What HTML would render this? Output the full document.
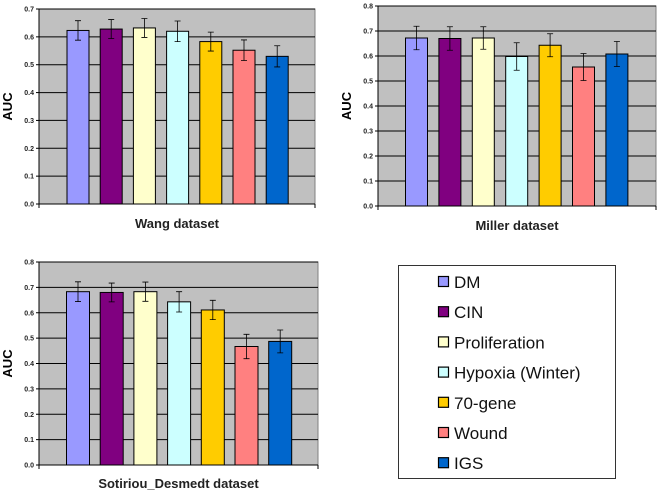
<!DOCTYPE html>
<html><head><meta charset="utf-8"><style>
body{margin:0;background:#fff;width:661px;height:494px;overflow:hidden;font-family:"Liberation Sans",sans-serif}
svg{position:absolute;left:0;top:0}
</style></head><body>
<svg id="s" width="661" height="494">
<g>
<rect x="398.5" y="265.5" width="217" height="213" fill="#fff" stroke="#333" stroke-width="1"/>
<g id="leg"></g>
</g>
</svg>
<script>
const categories=["DM","CIN","Proliferation","Hypoxia (Winter)","70-gene","Wound","IGS"];
const colors=["#9999ff","#800080","#ffffcc","#ccffff","#ffcc00","#ff8080","#0066cc"];
const wangValues=[0.623,0.628,0.632,0.620,0.583,0.552,0.530];
const wangErrors=[0.035,0.034,0.034,0.037,0.034,0.037,0.038];
const millerValues=[0.672,0.670,0.672,0.598,0.643,0.556,0.608];
const millerErrors=[0.047,0.047,0.045,0.055,0.046,0.054,0.05];
const sotValues=[0.683,0.680,0.683,0.643,0.611,0.467,0.487];
const sotErrors=[0.039,0.037,0.038,0.040,0.038,0.048,0.045];
const wangTicks=["0.0","0.1","0.2","0.3","0.4","0.5","0.6","0.7"];
const eightTicks=["0.0","0.1","0.2","0.3","0.4","0.5","0.6","0.7","0.8"];
const NS="http://www.w3.org/2000/svg";
const svg=document.getElementById('s');
function mk(t,a,p){const e=document.createElementNS(NS,t);for(const k in a)e.setAttribute(k,a[k]);(p||svg).appendChild(e);return e;}
function chart(id,cfg,vals,errs,ticks,title){
  const g=mk('g',{});
  
  
  const max=parseFloat(ticks[ticks.length-1]);
  const y=v=>cfg.y0-(v/max)*(cfg.y0-cfg.y1);
  const r=mk('rect',{x:cfg.x0,y:cfg.y1,width:cfg.x1-cfg.x0,height:cfg.y0-cfg.y1,fill:'#c0c0c0',stroke:'#808080'},g);
  
  
  ticks.forEach(t=>{const v=parseFloat(t);const yy=y(v);
    mk('line',{x1:cfg.x0,x2:cfg.x1,y1:yy,y2:yy,stroke:'#000','stroke-width':1},g);
    mk('line',{x1:cfg.x0-3,x2:cfg.x0,y1:yy,y2:yy,stroke:'#000'},g);
    const tx=mk('text',{x:cfg.x0-5,y:yy+2.5,'font-size':7,'text-anchor':'end','font-weight':'bold',fill:'#222'},g);
    tx.textContent=t;
    
    
  });
  mk('line',{x1:cfg.x0,x2:cfg.x0,y1:cfg.y1,y2:cfg.y0,stroke:'#000'},g);
  mk('line',{x1:cfg.x1,x2:cfg.x1,y1:cfg.y0,y2:cfg.y0+4,stroke:'#000'},g);
  mk('line',{x1:cfg.x0,x2:cfg.x0,y1:cfg.y0,y2:cfg.y0+4,stroke:'#000'},g);
  vals.forEach((v,i)=>{
    const bx=cfg.bx+i*cfg.step;
    const b=mk('rect',{x:bx,y:y(v),width:cfg.bw,height:cfg.y0-y(v),fill:colors[i],stroke:'#000','stroke-width':1},g);
    
    
    const cx=bx+cfg.bw/2,hi=y(v+errs[i]),lo=y(v-errs[i]);
    const eb=mk('path',{d:`M${cx},${hi}V${lo}M${cx-3},${hi}H${cx+3}M${cx-3},${lo}H${cx+3}`,stroke:'#000','stroke-width':0.8,fill:'none'},g);
    
    
  });
  const yl=mk('text',{x:0,y:0,'font-size':13,'font-weight':'bold','text-anchor':'middle',transform:`translate(${cfg.x0-27},${(cfg.y0+cfg.y1)/2}) rotate(-90)`},g);
  yl.textContent='AUC';
  
  
  const tl=mk('text',{x:(cfg.x0+cfg.x1)/2,y:cfg.ty,'font-size':13,'font-weight':'bold','text-anchor':'middle',fill:'#222'},g);
  tl.textContent=title;
  
  
}
chart('wang-chart',{x0:39,x1:315,y0:204,y1:9,bx:67,bw:22,step:33.2,ty:228},wangValues,wangErrors,wangTicks,'Wang dataset');
chart('miller-chart',{x0:378,x1:656,y0:206,y1:6,bx:405.5,bw:22,step:33.4,ty:230},millerValues,millerErrors,eightTicks,'Miller dataset');
chart('sotiriou-chart',{x0:39,x1:318,y0:465,y1:262,bx:66.5,bw:23,step:33.7,ty:488},sotValues,sotErrors,eightTicks,'Sotiriou_Desmedt dataset');
const leg=document.getElementById('leg');
categories.forEach((c,i)=>{
  const yy=282+i*30.2;
  const sw=mk('rect',{x:438.5,y:yy-5.5,width:10,height:10,fill:colors[i],stroke:'#000','stroke-width':1.2},leg);
  
  
  const t=mk('text',{x:454,y:yy+6,'font-size':17,fill:'#111'},leg);
  t.textContent=c;
  
  
});
</script>
</body></html>
